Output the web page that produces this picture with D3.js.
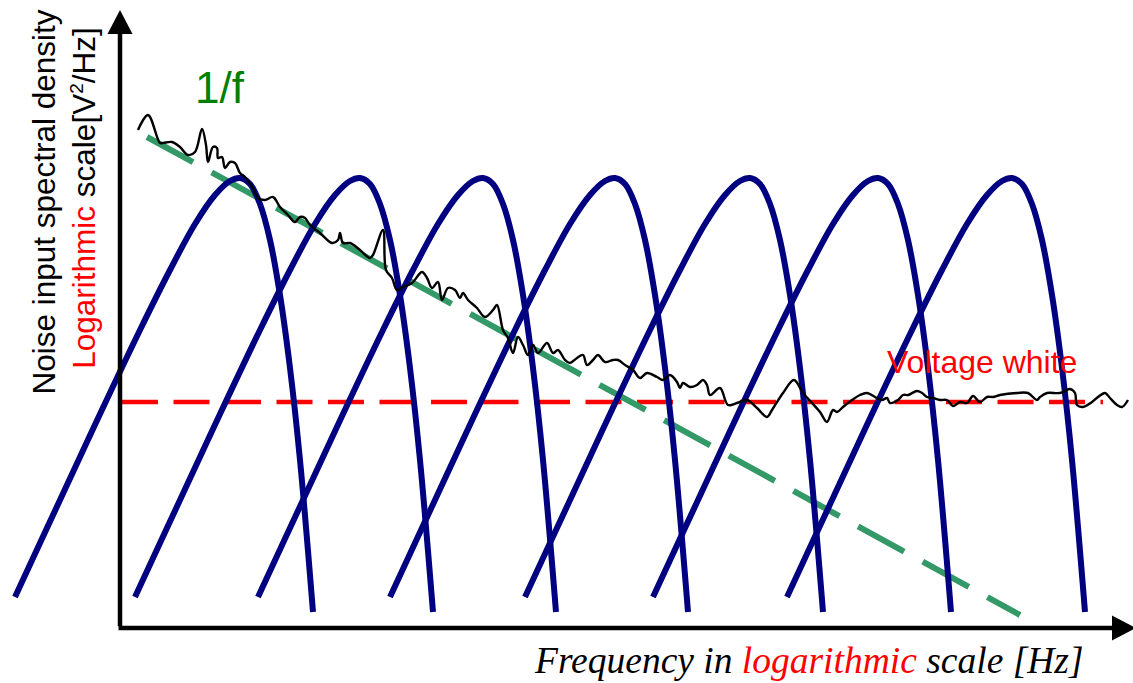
<!DOCTYPE html>
<html>
<head>
<meta charset="utf-8">
<script src="https://cdn.jsdelivr.net/npm/d3@7"></script>
<style>
  html, body { margin: 0; padding: 0; background: #fff; }
  svg { display: block; }
</style>
</head>
<body>
<div id="chart"></div>
<script>
// log-frequency units on x, log-density units on y (both)

// centre of each band-pass filter
var filterCenters = [12.0, 24.0, 36.3, 49.5, 63.0, 75.8, 89.2];
// shape of one filter response, offset from its centre
var shapeDx = [-22.5, -18, -14, -10, -7, -4.5, -2.5, -1, 0, 1, 2, 3, 4, 5, 6, 7.3];
var shapeY  = [3.1, 12.8, 21.4, 29.8, 35.8, 40.4, 43.3, 44.7, 45.0, 44.4, 42.4, 38.8, 33.3, 26.0, 16.8, 1.6];

// 1/f asymptote
var oneOverF = [[2.7, 49.1], [90.0, 1.3]];
// voltage white noise floor
var whiteLevel = 22.6;
var whiteRange = [0.2, 98.3];

// measured noise spectrum
var noiseF = [1.8, 2.8, 4.0, 4.3, 5.2, 6.0, 6.8, 7.5, 8.2, 8.6,
  8.8, 9.3, 9.7, 9.8, 10.2, 10.5, 11.0, 11.5, 12.0, 12.5,
  13.3, 13.8, 14.5, 15.3, 16.0, 16.8, 17.5, 18.0, 18.5, 19.0,
  20.0, 21.2, 21.8, 22.0, 22.3, 23.0, 24.0, 25.0, 25.3, 26.3,
  26.6, 27.2, 27.7, 28.3, 29.2, 30.2, 30.7, 31.2, 31.8, 32.2,
  32.8, 33.5, 34.0, 34.3, 34.8, 35.7, 36.5, 37.3, 37.7, 38.3,
  38.8, 39.3, 39.8, 40.3, 40.8, 41.3, 41.8, 42.7, 43.3, 43.8,
  44.5, 45.0, 45.7, 46.3, 46.7, 47.3, 47.8, 48.5, 49.3, 49.8,
  50.5, 51.3, 52.0, 52.7, 53.7, 54.3, 55.0, 55.7, 56.0, 56.3,
  57.0, 57.7, 58.3, 58.7, 59.0, 60.0, 60.8, 61.7, 62.7, 63.7,
  64.7, 65.2, 66.3, 67.4, 68.3, 69.2, 70.0, 70.7, 71.3, 71.7,
  72.3, 73.2, 74.0, 74.7, 75.5, 76.2, 76.7, 77.0, 77.8, 78.3,
  78.8, 79.7, 80.2, 80.7, 81.3, 82.0, 82.7, 83.3, 84.0, 84.7,
  85.3, 86.0, 86.7, 87.3, 88.0, 89.7, 90.8, 91.7, 92.0, 92.7,
  94.0, 95.0, 95.5, 95.7, 96.3, 97.2, 97.8, 98.5, 99.0, 99.7,
  100.2, 100.8];
var noiseS = [49.8, 51.3, 48.5, 48.5, 48.6, 48.1, 47.3, 47.6, 49.9, 48.3,
  46.6, 48.1, 48.0, 47.0, 47.1, 46.0, 46.6, 46.5, 45.5, 45.1,
  44.0, 43.0, 42.8, 43.1, 42.1, 41.3, 40.6, 41.1, 41.0, 40.3,
  39.5, 38.5, 38.8, 39.5, 38.5, 38.5, 37.8, 37.0, 37.3, 39.8,
  35.8, 35.0, 33.8, 34.1, 34.5, 35.6, 35.0, 34.0, 34.6, 32.8,
  34.0, 33.8, 33.0, 33.5, 32.8, 32.0, 31.1, 31.8, 32.3, 29.8,
  29.0, 27.5, 29.1, 28.3, 27.3, 28.3, 27.5, 28.5, 27.5, 27.8,
  26.8, 26.5, 27.0, 27.3, 26.3, 26.8, 27.3, 26.6, 26.8, 26.8,
  26.3, 25.8, 25.0, 25.5, 25.1, 24.8, 25.3, 24.6, 24.0, 24.5,
  24.1, 24.3, 24.8, 24.3, 23.3, 24.0, 22.3, 22.5, 22.8, 22.0,
  21.1, 21.8, 23.5, 24.8, 23.5, 22.5, 21.6, 20.6, 21.8, 21.6,
  22.1, 22.8, 23.3, 23.5, 23.1, 22.8, 23.0, 22.5, 22.8, 23.3,
  23.3, 23.7, 23.5, 23.1, 23.0, 22.8, 22.8, 22.2, 22.6, 22.5,
  23.2, 22.6, 23.1, 23.1, 23.3, 23.5, 23.5, 22.8, 23.1, 23.5,
  23.5, 23.9, 23.5, 22.3, 22.1, 22.6, 23.1, 23.5, 23.0, 22.3,
  22.1, 22.8];

var svgWidth = 1133;
var svgHeight = 683;

var svg = d3.select("#chart")
  .append("svg")
  .attr("width", svgWidth)
  .attr("height", svgHeight);

svg.append("rect")
  .attr("width", svgWidth)
  .attr("height", svgHeight)
  .attr("fill", "#fff");

var x = d3.scaleLinear().domain([0, 100]).range([120, 1120]);
var y = d3.scaleLinear().domain([0, 60]).range([628, 28]);

var line = d3.line()
  .x(function(d) { return x(d[0]); })
  .y(function(d) { return y(d[1]); });

var smoothLine = d3.line()
  .x(function(d) { return x(d[0]); })
  .y(function(d) { return y(d[1]); })
  .curve(d3.curveCatmullRom.alpha(0.5));

// white noise floor
svg.append("line")
  .attr("x1", x(whiteRange[0]))
  .attr("x2", x(whiteRange[1]))
  .attr("y1", y(whiteLevel))
  .attr("y2", y(whiteLevel))
  .attr("stroke", "#ff0000")
  .attr("stroke-width", 4.5)
  .attr("stroke-dasharray", "36,15.5");

// 1/f asymptote
svg.append("path")
  .attr("d", line(oneOverF))
  .attr("fill", "none")
  .attr("stroke", "#339966")
  .attr("stroke-width", 6)
  .attr("stroke-dasharray", "52.5,21.2");

// filters
svg.selectAll(".filter")
  .data(filterCenters)
  .enter()
  .append("path")
  .attr("class", "filter")
  .attr("d", function(c) {
    return smoothLine(shapeDx.map(function(dx, i) { return [c + dx, shapeY[i]]; }));
  })
  .attr("fill", "none")
  .attr("stroke", "#000080")
  .attr("stroke-width", 6);

// noise spectrum
svg.append("path")
  .attr("d", smoothLine(d3.zip(noiseF, noiseS)))
  .attr("fill", "none")
  .attr("stroke", "#000")
  .attr("stroke-width", 2.4)
  .attr("stroke-linejoin", "round");

// axes (no ticks, just arrows)
var x0 = x(0), y0 = y(0);
svg.append("line")
  .attr("x1", x0).attr("x2", x0)
  .attr("y1", y0 - 2).attr("y2", 30)
  .attr("stroke", "#000").attr("stroke-width", 4.5);
svg.append("path")
  .attr("d", "M" + x0 + ",10 L" + (x0 - 12.5) + ",34 L" + (x0 + 12.5) + ",34 Z")
  .attr("fill", "#000");

svg.append("line")
  .attr("x1", x0 - 1.5).attr("x2", 1116)
  .attr("y1", y0).attr("y2", y0)
  .attr("stroke", "#000").attr("stroke-width", 4.5);
svg.append("path")
  .attr("d", "M1136," + y0 + " L1112," + (y0 - 12.5) + " L1112," + (y0 + 12.5) + " Z")
  .attr("fill", "#000");

// labels
svg.append("text")
  .attr("x", 195)
  .attr("y", 103)
  .attr("font-family", "'Liberation Sans', Arial, sans-serif")
  .attr("font-size", 44)
  .attr("fill", "#008000")
  .text("1/f");

svg.append("text")
  .attr("x", 887)
  .attr("y", 373)
  .attr("font-family", "'Liberation Sans', Arial, sans-serif")
  .attr("font-size", 32)
  .attr("fill", "#ff0000")
  .text("Voltage white");

svg.append("text")
  .attr("transform", "translate(55,202) rotate(-90)")
  .attr("text-anchor", "middle")
  .attr("font-family", "'Liberation Sans', Arial, sans-serif")
  .attr("font-size", 31.5)
  .attr("fill", "#000")
  .text("Noise input spectral density");

var yl2 = svg.append("text")
  .attr("transform", "translate(95,198) rotate(-90)")
  .attr("text-anchor", "middle")
  .attr("font-family", "'Liberation Sans', Arial, sans-serif")
  .attr("font-size", 31.5)
  .attr("fill", "#000");
yl2.append("tspan").attr("fill", "#ff0000").text("Logarithmic");
yl2.append("tspan").text(" scale[V");
yl2.append("tspan").attr("font-size", 19).attr("dy", -12).text("2");
yl2.append("tspan").attr("dy", 12).text("/Hz]");

var xl = svg.append("text")
  .attr("x", 535)
  .attr("y", 673)
  .attr("font-family", "'Liberation Serif', 'Times New Roman', serif")
  .attr("font-style", "italic")
  .attr("font-size", 37.5)
  .attr("fill", "#000");
xl.append("tspan").text("Frequency in ");
xl.append("tspan").attr("fill", "#ff0000").text("logarithmic");
xl.append("tspan").text(" scale [Hz]");
</script>
</body>
</html>
